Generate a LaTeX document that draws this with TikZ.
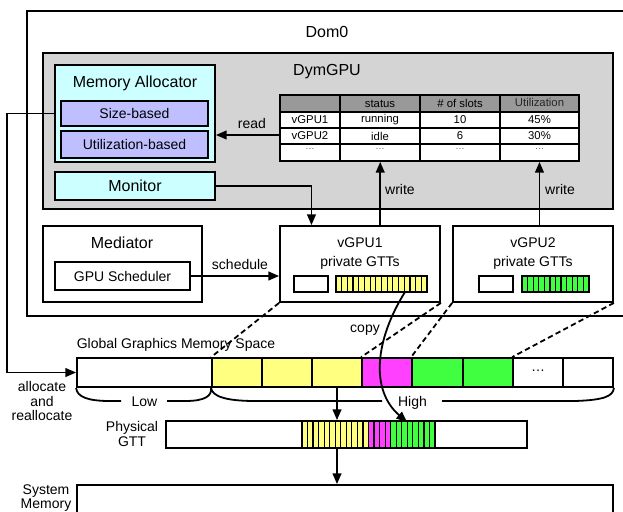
\documentclass[tikz,border=0pt]{standalone}
\usepackage{fontspec}
\setmainfont{Liberation Sans}
\usetikzlibrary{arrows.meta,fit,calc}
\definecolor{graybg}{RGB}{212,212,212}
\definecolor{hdr}{RGB}{153,153,153}
\definecolor{cyanbg}{RGB}{204,255,255}
\definecolor{lav}{RGB}{191,191,255}
\definecolor{yel}{RGB}{255,255,128}
\definecolor{mag}{RGB}{255,64,255}
\definecolor{grn}{RGB}{64,255,64}
\definecolor{dotgray}{RGB}{90,90,90}
\begin{document}
\begin{tikzpicture}[x=0.75pt,y=-0.75pt,
  box/.style={draw, line width=1.35pt, inner sep=0pt},
  lbl/.style={inner sep=0pt, font=\fontsize{10.5pt}{10.6pt}\selectfont},
  big/.style={inner sep=0pt, font=\fontsize{12pt}{14pt}\selectfont},
  tbt/.style={inner sep=0pt, font=\fontsize{8.5pt}{10pt}\selectfont},
  tdot/.style={inner sep=0pt, text=dotgray, font=\fontsize{7pt}{8pt}\selectfont},
  arr/.style={line width=1.35pt, -{Triangle[length=8pt,width=6.5pt]}},
  dsh/.style={line width=1.35pt, dash pattern=on 4pt off 2.5pt},
  brc/.style={line width=1.35pt},
  grid/.style={line width=1.35pt},
  stripe/.style={line width=0.9pt}]
\useasboundingbox (0,0) rectangle (623,511);
\clip (0,0) rectangle (623,511);

% Dom0
\node[box, fit={(27,11) (640,316)}] (dom0) {};
\node[big] (dom0t) at (327,32) {Dom0};

% DymGPU
\node[box, fill=graybg, fit={(43,53) (613,209)}] (dym) {};
\node[big] (dymt) at (327,72) {DymGPU};

% Memory allocator
\node[box, fill=cyanbg, fit={(55,65) (215,162)}] (alloc) {};
\node[big] (alloct) at (135,83) {Memory Allocator};
\node[box, fill=lav, fit={(61,101) (208,126)}] (sizeb) {};
\node[lbl] at (sizeb.center) (sizebt) {Size-based};
\node[box, fill=lav, fit={(61,131) (208,158)}] (utilb) {};
\node[lbl] at (utilb.center) (utilbt) {Utilization-based};
\node[box, fill=cyanbg, fit={(55,172) (215,200)}] (mon) {};
\node[big] at (mon.center) (mont) {Monitor};

% table
\fill[white] (280,95) rectangle (579,161);
\fill[hdr] (280,95) rectangle (579,112);
\foreach \x in {340,420,500} \draw[grid] (\x,95) -- (\x,161);
\foreach \y in {112,128,144} \draw[grid] (280,\y) -- (579,\y);
\node[box, fit={(280,95) (579,161)}] (tbl) {};
\node[tbt] (h2) at (380,103.5) {status};
\node[tbt] (h3) at (460,103.5) {\# of slots};
\node[tbt, text=black!85] (h4) at (539.5,102.5) {Utilization};
\node[tbt] (r11) at (310,120) {vGPU1};
\node[tbt] (r12) at (380,120) {running};
\node[tbt] (r13) at (460,120) {10};
\node[tbt] (r14) at (539.5,120) {45\%};
\node[tbt] (r21) at (310,136) {vGPU2};
\node[tbt] (r22) at (380,136) {idle};
\node[tbt] (r23) at (460,136) {6};
\node[tbt] (r24) at (539.5,136) {30\%};
\foreach \x/\n in {310/a,380/b,460/c,539.5/d}
  \node[tdot] (r3\n) at (\x,149) {…};

% Mediator
\node[box, fill=white, fit={(43,226) (202,302)}] (med) {};
\node[big] (medt) at (122,243) {Mediator};
\node[box, fill=white, fit={(55,262) (190,290)}] (sched) {};
\node[lbl] at (sched.center) (schedt) {GPU Scheduler};

% vGPU1
\node[box, fill=white, fit={(280,226) (440,302)}] (vg1) {};
\node[lbl] (vg1t) at (360,243) {vGPU1};
\node[lbl] (vg1p) at (360,263) {private GTTs};
\node[box, fill=white, fit={(294,276) (328,292)}] (vw1) {};
\node[box, fill=yel, fit={(336,276) (427,292)}] (ys) {};
\foreach \i in {1,...,15} \draw[stripe] ({336+\i*91/16},276) -- ({336+\i*91/16},292);

% vGPU2
\node[box, fill=white, fit={(453,226) (613,302)}] (vg2) {};
\node[lbl] (vg2t) at (533,243) {vGPU2};
\node[lbl] (vg2p) at (533,263) {private GTTs};
\node[box, fill=white, fit={(479,276) (513,292)}] (vw2) {};
\node[box, fill=grn, fit={(522,276) (589,292)}] (gs) {};
\foreach \i in {1,...,11} \draw[stripe] ({522+\i*67/12},276) -- ({522+\i*67/12},292);

% arrows inside Dom0
\draw[arr] (tbl.west |- 0,135) -- (alloc.east |- 0,135);
\node[lbl] (readt) at (252,123) {read};
\draw[arr] (mon.east) -| ($(vg1.north west)!0.2!(vg1.north east)$);
\coordinate (w1) at ($(vg1.north west)!0.625!(vg1.north east)$);
\draw[arr] (w1) -- (w1 |- tbl.south);
\node[lbl] (w1t) at (400,189) {write};
\coordinate (w2) at ($(vg2.north west)!0.54!(vg2.north east)$);
\draw[arr] (w2) -- (w2 |- tbl.south);
\node[lbl] (w2t) at (560,189) {write};
\draw[arr] ([xshift=-1.5pt]sched.east) -- (vg1.west |- sched.east);
\node[lbl] (scht) at (240,264) {schedule};

% global graphics memory
\node[lbl] (ggt) at (176,345) {Global Graphics Memory Space};
\node[box, fill=white, fit={(77,358) (212,387)}] (g0) {};
\node[box, fill=yel, fit={(212,358) (262,387)}] (g1) {};
\node[box, fill=yel, fit={(262,358) (312,387)}] (g2) {};
\node[box, fill=yel, fit={(312,358) (362,387)}] (g3) {};
\node[box, fill=mag, fit={(362,358) (412,387)}] (g4) {};
\node[box, fill=grn, fit={(412,358) (463,387)}] (g5) {};
\node[box, fill=grn, fit={(463,358) (513,387)}] (g6) {};
\node[box, fill=white, fit={(513,358) (563,387)}] (g7) {};
\node[box, fill=white, fit={(563,358) (613,387)}] (g8) {};
\node[lbl] (g7t) at (538,371) {…};

% dashed mapping lines
\draw[dsh] (vg1.south west) -- (g1.north west);
\draw[dsh] (vg1.south east) -- (g4.north west);
\draw[dsh] (vg2.south west) -- (g5.north west);
\draw[dsh] (vg2.south east) -- (g7.north west);

% allocate arrow
\draw[arr] (alloc.west |- sizeb.center) -- ++(-47,0) |- (g0.west);
\node[lbl, align=center, font=\fontsize{10.5pt}{10.9pt}\selectfont] (allt) at (42,401) {allocate\\and\\reallocate};

% braces
\draw[brc] (g0.south west) .. controls (77,397) and (88,401) .. (110,401) -- (121,401);
\draw[brc] (167,401) -- (185,401) .. controls (205,401) and (212,396) .. (g1.south west);
\node[lbl] (lowt) at (144.5,402) {Low};
\draw[brc] (g1.south west) .. controls (212,396) and (225,401) .. (255,401) -- (382,401);
\draw[brc] (442,401) -- (575,401) .. controls (605,400) and (613,396) .. (g8.south east);
\node[lbl] (hight) at (412.5,403) {High};

% physical GTT
\node[lbl, align=center] (pgtxt) at (132,434) {Physical\\GTT};
\node[box, fill=white, fit={(166,421) (527,448)}] (pgtt) {};
\fill[yel] (302,421) rectangle ({302+12*133/24},448);
\fill[mag] ({302+12*133/24},421) rectangle ({302+16*133/24},448);
\fill[grn] ({302+16*133/24},421) rectangle (435,448);
\foreach \i in {0,...,24} \draw[stripe] ({302+\i*133/24},421) -- ({302+\i*133/24},448);
\node[box, fit={(166,421) (527,448)}] (pgttb) {};

% system memory
\node[box, fill=white, fit={(77,485) (613,530)}] (sysm) {};
\node[lbl, align=center, font=\fontsize{10.5pt}{10pt}\selectfont] (smt) at (46,498) {System\\Memory};

% vertical arrows
\draw[arr] (g3.south) -- (g3.south |- pgtt.north);
\draw[arr] (g3.south |- pgtt.south) -- (g3.south |- sysm.north);

% copy
\coordinate (cpS) at (405,292);
\coordinate (cpE) at (407,422);
\draw[arr] (cpS) .. controls (375,340) and (370,390) .. (cpE);
\node[lbl] (copyt) at (365,330) {copy};
\end{tikzpicture}
\end{document}
